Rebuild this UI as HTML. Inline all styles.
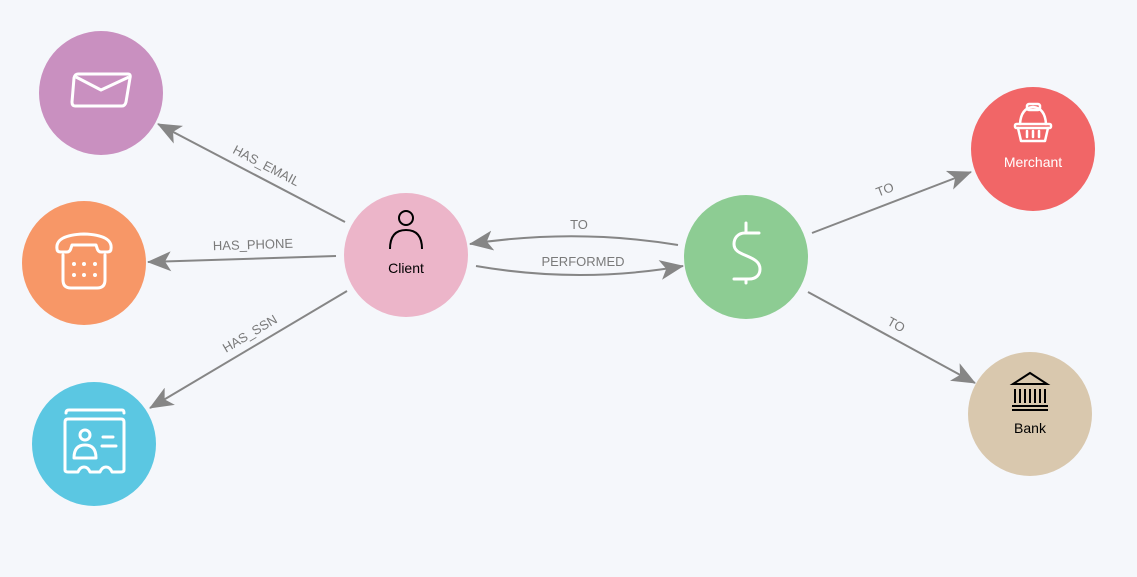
<!DOCTYPE html>
<html><head><meta charset="utf-8"><style>
html,body{margin:0;padding:0;background:#f5f7fb;}
svg{display:block;font-family:"Liberation Sans",sans-serif;}
.lbl{fill:#7a7a7a;font-size:13px;}
</style></head><body>
<svg width="1137" height="577" viewBox="0 0 1137 577">
<defs>
<marker id="a" markerWidth="24" markerHeight="20" refX="23" refY="10" orient="auto" markerUnits="userSpaceOnUse">
<path d="M0,0 L24,10 L0,20 L6,10 Z" fill="#868686"/>
</marker>
</defs>
<rect width="1137" height="577" fill="#f5f7fb"/>
<g stroke="#868686" stroke-width="2" fill="none" marker-end="url(#a)">
<line x1="345" y1="222" x2="158" y2="124"/>
<line x1="336" y1="256" x2="148" y2="262"/>
<line x1="347" y1="291" x2="150" y2="408"/>
<path d="M678,245 Q575,228 470,244"/>
<path d="M476,266 Q580,284 683,266"/>
<line x1="812" y1="233" x2="971" y2="172"/>
<line x1="808" y1="292" x2="975" y2="383"/>
</g>
<text class="lbl" transform="translate(266,166) rotate(27.6)" text-anchor="middle" dy="4">HAS_EMAIL</text>
<text class="lbl" transform="translate(253,245) rotate(-1.8)" text-anchor="middle" dy="4">HAS_PHONE</text>
<text class="lbl" transform="translate(250,334) rotate(-30.7)" text-anchor="middle" dy="4">HAS_SSN</text>
<text class="lbl" x="579" y="229" text-anchor="middle">TO</text>
<text class="lbl" x="583" y="266" text-anchor="middle">PERFORMED</text>
<text class="lbl" transform="translate(885,190) rotate(-21)" text-anchor="middle" dy="4">TO</text>
<text class="lbl" transform="translate(896,325) rotate(28.6)" text-anchor="middle" dy="4">TO</text>

<circle cx="101" cy="93" r="62" fill="#c990c0"/>
<circle cx="84" cy="263" r="62" fill="#f79767"/>
<circle cx="94" cy="444" r="62" fill="#5bc7e2"/>
<circle cx="406" cy="255" r="62" fill="#ecb5c9"/>
<circle cx="746" cy="257" r="62" fill="#8dcc93"/>
<circle cx="1033" cy="149" r="62" fill="#f16667"/>
<circle cx="1030" cy="414" r="62" fill="#d9c8ae"/>

<g stroke="#fff" stroke-width="3" fill="none" stroke-linejoin="round">
<path d="M78,74 H128 Q131,74 130,78 L126,102 Q125,106 122,106 H75 Q72,106 72,102 L74,78 Q75,74 78,74 Z"/>
<path d="M76,77 L101,90 L129,77"/>
</g>
<g stroke="#fff" stroke-width="3" fill="none" stroke-linejoin="round" stroke-linecap="round">
<path d="M57,249 Q55,235 84,234 Q113,235 111,249 Q111,252 107,252 H101 Q98,252 97,248 L96,245 H72 L71,248 Q70,252 67,252 H61 Q57,252 57,249 Z"/>
<path d="M63,255 V280 Q63,288 71,288 H97 Q105,288 105,280 V255"/>
</g>
<g fill="#fff">
<circle cx="74" cy="264" r="2"/><circle cx="84" cy="264" r="2"/><circle cx="95" cy="264" r="2"/>
<circle cx="74" cy="275" r="2"/><circle cx="84" cy="275" r="2"/><circle cx="95" cy="275" r="2"/>
</g>
<g stroke="#fff" stroke-width="3" fill="none" stroke-linejoin="round" stroke-linecap="round">
<path d="M66,413 Q66,410 69,410 H122 Q124,410 124,413"/>
<path d="M68,419 H121 Q124,419 124,422 V470 Q124,472 121,472 H112 Q110,467 106,467 Q102,467 100,472 H90 Q88,467 84,467 Q80,467 78,472 H68 Q65,472 65,470 V422 Q65,419 68,419 Z"/>
<circle cx="85" cy="435" r="5"/>
<path d="M74,458 Q74,445 85,445 Q96,445 96,458 Z"/>
<path d="M103,437 H113 M102,446 H116"/>
</g>
<g stroke="#000" stroke-width="2" fill="none">
<circle cx="406" cy="218" r="7"/>
<path d="M390,249 Q390,230 406,230 Q422,230 422,249"/>
</g>
<text x="406" y="273" text-anchor="middle" font-size="14" fill="#000">Client</text>
<g stroke="#fff" stroke-width="3" fill="none" stroke-linecap="round">
<path d="M759,233 H745 C738,233 734,238 734,244 C734,251 740,253 747,256 C754,259 760,262 760,269 C760,275 756,279 749,279 H734"/>
<path d="M746,223 V233 M746,279 V283"/>
</g>
<g stroke="#fff" stroke-width="2.5" fill="none" stroke-linejoin="round" stroke-linecap="round">
<path d="M1020,124 Q1021,108 1033,107 Q1045,108 1046,124"/>
<rect x="1027" y="104" width="13" height="6" rx="2"/>
<rect x="1015" y="124" width="36" height="4" rx="1.5"/>
<path d="M1018,128 L1021,141 H1045 L1048,128"/>
<path d="M1027,131 V137 M1033,131 V137 M1039,131 V137"/>
</g>
<text x="1033" y="167" text-anchor="middle" font-size="14" fill="#fff">Merchant</text>
<g stroke="#000" stroke-width="2" fill="none">
<path d="M1013,384 L1030,373 L1047,384 Z"/>
<path d="M1015,389 V403 M1020,389 V403 M1025,389 V403 M1030,389 V403 M1035,389 V403 M1040,389 V403 M1045,389 V403"/>
<path d="M1012,406 H1048 M1012,410 H1048"/>
</g>
<text x="1030" y="433" text-anchor="middle" font-size="14" fill="#000">Bank</text>
</svg>
</body></html>
